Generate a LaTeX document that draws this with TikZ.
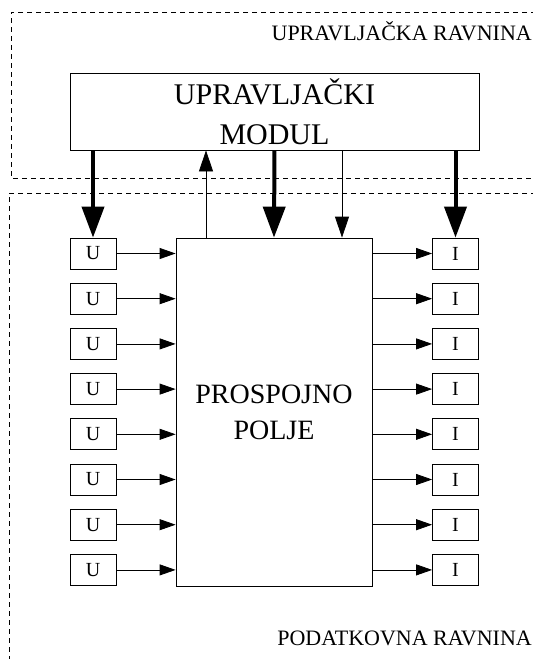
\documentclass[tikz,border=0pt]{standalone}
\usepackage{fontspec}
\setmainfont{Liberation Serif}
\usetikzlibrary{calc,arrows.meta,positioning}
\tikzset{
  ar/.style={-{Triangle[length=16pt,width=11pt]},line width=0.8pt},
  var/.style={-{Triangle[length=21pt,width=14pt]},line width=0.8pt},
  bar/.style={-{Triangle[length=31pt,width=22pt]},line width=4pt},
  box/.style={draw,line width=0.8pt,inner sep=0pt,align=center},
  port/.style={box,minimum width=46pt,minimum height=31pt,font=\fontsize{20}{22}\selectfont},
  plane/.style={dashed,line width=0.8pt,dash pattern=on 5pt off 4pt},
  lbl/.style={font=\fontsize{22}{24}\selectfont,inner sep=0pt,anchor=base east}
}
\begin{document}
\begin{tikzpicture}[x=1pt,y=-1pt]
\clip (0,0) rectangle (533,659);
\draw[plane] (545,12) -- (11,12) -- (11,178) -- (545,178);
\draw[plane] (545,193) -- (9,193) -- (9,670);
\node[lbl] (cpl) at (532,40) {UPRAVLJAČKA RAVNINA};
\node[lbl] (dpl) at (532,645) {PODATKOVNA RAVNINA};
\node[box,minimum width=409pt,minimum height=77pt,font=\fontsize{30}{40}\selectfont] (mod) at (274.5,111.5) {UPRAVLJAČKI\\MODUL};
\node[box,minimum width=196pt,minimum height=348pt,font=\fontsize{28}{36}\selectfont] (sw) at (274,412) {PROSPOJNO\\POLJE};
\foreach \k in {1,...,8}{
 \node[port] (u\k) at (93,253.5+45.2*\k-45.2) {U};
 \node[port] (i\k) at (455.5,253.5+45.2*\k-45.2) {I};
 \draw[ar] (u\k.east) -- (u\k.east -| sw.west);
 \draw[ar] (i\k.west -| sw.east) -- (i\k.west);}
\coordinate (up) at (206,0);
\coordinate (dn) at (342,0);
\draw[bar] (mod.south -| u1.north) -- (u1.north);
\draw[bar] (mod.south) -- (sw.north);
\draw[bar] (mod.south -| i1.north) -- (i1.north);
\draw[var] (sw.north -| up) -- (mod.south -| up);
\draw[var] (mod.south -| dn) -- (sw.north -| dn);
\end{tikzpicture}
\end{document}
